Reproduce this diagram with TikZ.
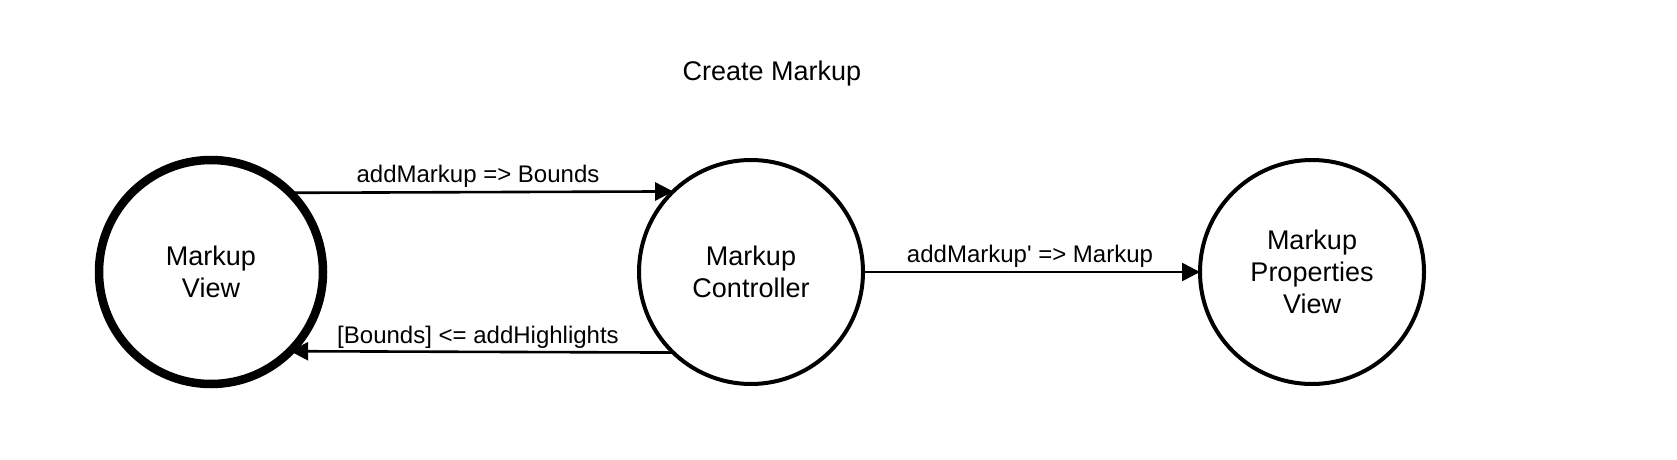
\documentclass[tikz,border=0pt]{standalone}
\usepackage{fontspec}
\setmainfont{Liberation Sans}
\usetikzlibrary{arrows.meta}
\begin{document}
\begin{tikzpicture}[x=1pt,y=1pt,
  state/.style={circle,draw=black,line width=4pt,minimum size=224pt,inner sep=0pt,outer sep=0pt,align=center,font=\fontsize{27}{32}\selectfont},
  bigstate/.style={state,line width=8.5pt},
  arr/.style={line width=2.6pt,-{Triangle[length=18pt,width=18pt]}},
  lbl/.style={anchor=base,font=\fontsize{24}{28}\selectfont,inner sep=0pt},
  ttl/.style={anchor=base,font=\fontsize{27}{30}\selectfont,inner sep=0pt}]
\useasboundingbox (0,0) rectangle (1677,459);
\node[bigstate] (v) at (211,187) {Markup\\View};
\node[state] (c) at (751,187) {Markup\\Controller};
\node[state] (p) at (1312,187) {Markup\\Properties\\View};
\node[ttl] (t) at (772,379) {Create Markup};
\draw[arr] (v.45.6) -- (c.134.4);
\draw[arr] (c.-134.4) -- (v.-45.6);
\draw[arr] (c.east) -- (p.west);
\node[lbl] (l1) at (478,277) {addMarkup => Bounds};
\node[lbl] (l2) at (478,116) {[Bounds] <= addHighlights};
\node[lbl] (l3) at (1030,197) {addMarkup\textquotesingle{} => Markup};
\end{tikzpicture}
\end{document}
